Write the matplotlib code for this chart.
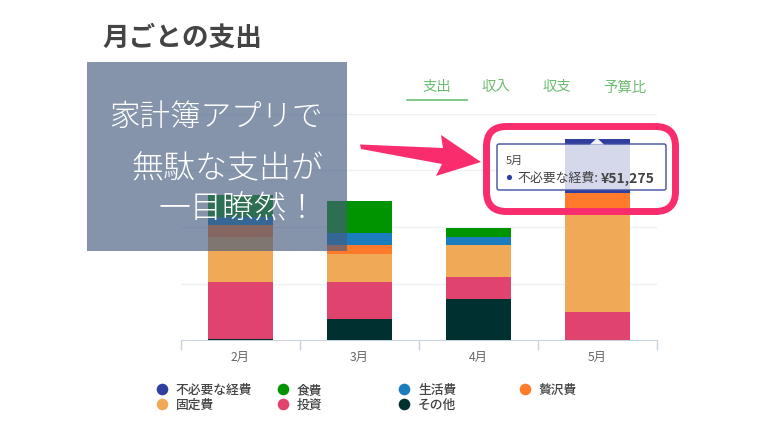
import matplotlib
matplotlib.use("Agg")
import matplotlib.pyplot as plt
import numpy as np
from matplotlib.patches import Rectangle, FancyBboxPatch, Polygon

plt.rcParams['font.family'] = ['Noto Sans CJK JP', 'DejaVu Sans']

months = ["2月", "3月", "4月", "5月"]

# stacked from the bottom up
other = [1400, 19700, 38400, 0]
invest = [53200, 34700, 21100, 26200]
fixed = [41800, 26500, 30000, 97400]
luxury = [11200, 8000, 0, 14100]
living = [7500, 11200, 7000, 0]
food = [20600, 30000, 8400, 0]
wasteful = [0, 0, 0, 51275]

stack_names = ["その他", "投資", "固定費", "贅沢費", "生活費", "食費", "不必要な経費"]
stack_values = [other, invest, fixed, luxury, living, food, wasteful]
stack_colors = ["#00302f", "#e0446e", "#f0a957", "#ff7a2b", "#1b7dbd", "#009400", "#303f9f"]

legend_order = ["不必要な経費", "食費", "生活費", "贅沢費", "固定費", "投資", "その他"]
tabs = ["支出", "収入", "収支", "予算比"]
tab_x = [437, 496, 557, 625]

Y_STEP = 53000
Y_MAX = 212000
W, H = 768, 432

fig = plt.figure(figsize=(W / 100, H / 100), dpi=100, facecolor="white")

ax = fig.add_axes([181 / W, (H - 340) / H, 476 / W, 226 / H])
pos = np.arange(len(months))
bottom = np.zeros(len(months))
for vals, col in zip(stack_values, stack_colors):
    ax.bar(pos, vals, 0.54, bottom=bottom, color=col, zorder=3)
    bottom += np.array(vals)

ax.set_xlim(-0.5, 3.5)
ax.set_ylim(0, Y_MAX)
ax.set_yticks(np.arange(Y_STEP, Y_MAX + 1, Y_STEP))
ax.tick_params(axis="y", length=0, labelleft=False)
ax.grid(axis="y", color="#eef0f4", linewidth=1, zorder=0)
ax.set_xticks(np.arange(-0.5, 4, 1))
ax.set_xticklabels([])
ax.tick_params(axis="x", which="major", length=7, width=1, color="#c9d3e0")
ax.set_xticks(pos, minor=True)
ax.set_xticklabels(months, minor=True, fontsize=8.8, color="#666666")
ax.tick_params(axis="x", which="minor", length=0, pad=8)
for s in ["top", "left", "right"]:
    ax.spines[s].set_visible(False)
ax.spines["bottom"].set_color("#c9d3e0")

# everything else sits on a pixel-coordinate layer above the chart
top = fig.add_axes([0, 0, 1, 1])
top.set_xlim(0, W)
top.set_ylim(H, 0)
top.axis("off")

top.text(102, 35, "月ごとの支出", fontsize=19.2, fontweight="bold", color="#444444", va="center_baseline")

for label, x in zip(tabs, tab_x):
    top.text(x, 86, label, fontsize=10.4, color="#6dbd72", ha="center", va="center_baseline")
top.plot([407, 467], [100, 100], color="#6dbd72", linewidth=1.2)

# legend
for i, name in enumerate(legend_order):
    col_x = 162 + 121 * (i % 4)
    row_y = 389 + 15 * (i // 4)
    color = stack_colors[stack_names.index(name)]
    top.scatter([col_x], [row_y], s=70, color=color, linewidths=0)
    top.text(col_x + 14, row_y, name, fontsize=9.2, fontweight="medium", color="#444444", va="center_baseline")

# banner
top.add_patch(Rectangle((87, 62), 260, 189, facecolor="#455c7f", alpha=0.655, linewidth=0))
banner_lines = [("家計簿アプリで", 323, 113, 22), ("無駄な支出が", 323, 165, 23), ("一目瞭然！", 318, 205, 23)]
for line, x, y, size in banner_lines:
    top.text(x, y, line, fontsize=size, color="white", ha="right", va="center_baseline", fontweight="light")

# tooltip
top.add_patch(FancyBboxPatch((497, 144), 169, 46, boxstyle="round,pad=0,rounding_size=2",
                             facecolor="white", alpha=0.8, edgecolor="none"))
top.add_patch(FancyBboxPatch((497, 144), 169, 46, boxstyle="round,pad=0,rounding_size=2",
                             facecolor="none", edgecolor="#3f4f9f", linewidth=1))
top.add_patch(Polygon([(590, 144.5), (597, 138), (604, 144.5)], closed=True, facecolor="#eef0f6", edgecolor="none"))
top.text(506, 160, "5月", fontsize=8, color="#444444", va="center_baseline")
top.scatter([509], [177], s=14, color="#303f9f", linewidths=0)
top.text(517, 177, "不必要な経費:", fontsize=9.3, color="#444444", va="center_baseline")
top.text(655, 177, "¥51,275", fontsize=10, fontweight="bold", color="#444444", va="center_baseline", ha="right")

# pink frame and arrow
pink = "#f92d6e"
top.add_patch(FancyBboxPatch((486.5, 126.5), 189, 85, boxstyle="round,pad=0,rounding_size=20",
                             facecolor="none", edgecolor=pink, linewidth=5))
top.add_patch(Polygon([(360, 144.5), (443, 148), (441, 135), (481, 162), (436, 176), (442, 164), (361, 149)],
                      closed=True, facecolor=pink, edgecolor="none"))

fig.savefig("out.png", dpi=100)
